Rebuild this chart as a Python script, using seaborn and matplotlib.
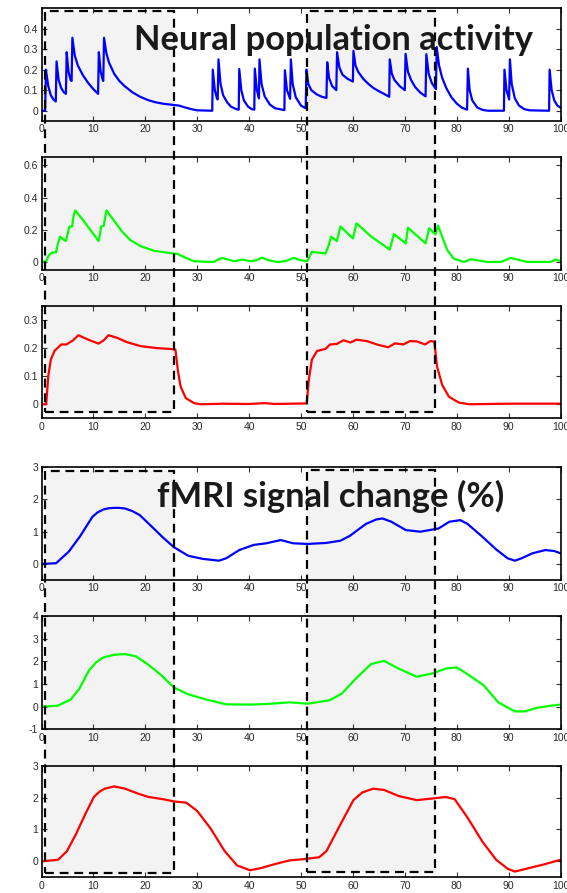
import matplotlib
matplotlib.use("Agg")
import matplotlib.pyplot as plt
import seaborn as sns
import pandas as pd
from matplotlib.patches import Rectangle

# ---------------- data ----------------
neural_blue_t = [0, 0.7, 0.85, 1.3, 1.8, 2.3, 2.75,
                 2.9, 3.3, 3.8, 4.3, 4.7,
                 4.85, 5.2, 5.6, 5.8,
                 5.95, 6.4, 7.0, 8.0, 9.0, 10.0, 10.9,
                 11.05, 11.4, 11.8, 11.9,
                 12.05, 12.5, 13.0, 14.0, 15.0, 16.0, 17.5, 19.0, 20.5, 22.0, 23.5, 25.5, 26.5, 27.5, 29.0, 30.0, 32.9,
                 33.0, 33.4, 33.8, 33.95,
                 34.1, 34.5, 35.0, 35.8, 36.5, 37.5, 38.0,
                 38.1, 38.5, 39.0, 39.8, 40.5, 41.0,
                 41.1, 41.5, 41.9,
                 42.0, 42.4, 43.0, 44.0, 45.0, 46.8,
                 46.9, 47.3, 47.9,
                 48.05, 48.4, 49.0, 50.0, 50.9,
                 51.05, 51.4, 52.0, 53.0, 54.0, 54.9,
                 55.05, 55.4, 56.0, 56.8,
                 56.95, 57.4, 58.0, 59.0, 60.0,
                 60.1, 60.5, 61.0, 62.0, 63.0, 64.0, 65.0, 66.0, 67.0,
                 67.1, 67.5, 68.0, 69.0, 70.0,
                 70.15, 70.6, 71.2, 72.0, 73.0, 74.0,
                 74.15, 74.6, 75.2, 76.0,
                 76.15, 76.6, 77.2, 78.0, 79.0, 80.0, 81.0, 82.0,
                 82.15, 82.5, 83.0, 84.0, 85.0, 86.0, 89.1,
                 89.2, 89.6, 90.1,
                 90.25, 90.6, 91.2, 92.0, 93.0, 94.0, 97.8,
                 97.9, 98.3, 98.8, 99.4, 100]
neural_blue_y = [0, 0, 0.2, 0.12, 0.075, 0.055, 0.045,
                 0.24, 0.15, 0.11, 0.09, 0.082,
                 0.285, 0.19, 0.15, 0.145,
                 0.355, 0.27, 0.22, 0.172, 0.135, 0.105, 0.082,
                 0.285, 0.19, 0.15, 0.145,
                 0.355, 0.28, 0.235, 0.18, 0.145, 0.12, 0.09, 0.068, 0.052, 0.041, 0.034, 0.028, 0.025, 0.017, 0.007, 0.002, 0.0,
                 0.2, 0.1, 0.06, 0.055,
                 0.25, 0.13, 0.075, 0.04, 0.02, 0.008, 0.005,
                 0.203, 0.1, 0.05, 0.02, 0.008, 0.005,
                 0.205, 0.1, 0.06,
                 0.25, 0.13, 0.07, 0.03, 0.012, 0.003,
                 0.197, 0.1, 0.058,
                 0.25, 0.13, 0.065, 0.025, 0.012,
                 0.2, 0.13, 0.1, 0.08, 0.068, 0.062,
                 0.236, 0.16, 0.12, 0.1,
                 0.285, 0.21, 0.175, 0.155, 0.142,
                 0.292, 0.22, 0.19, 0.155, 0.13, 0.11, 0.095, 0.082, 0.068,
                 0.25, 0.18, 0.15, 0.12, 0.1,
                 0.277, 0.19, 0.15, 0.115, 0.088, 0.07,
                 0.275, 0.18, 0.135, 0.105,
                 0.31, 0.22, 0.16, 0.11, 0.065, 0.035, 0.015, 0.005,
                 0.205, 0.1, 0.05, 0.015, 0.004, 0, 0,
                 0.2, 0.1, 0.055,
                 0.25, 0.13, 0.06, 0.025, 0.008, 0.002, 0,
                 0.2, 0.1, 0.05, 0.025, 0.015]

neural_green_t = [0, 0.9, 1.4, 2.0, 2.8, 3.2, 3.6, 4.2, 4.7, 5.0, 5.4, 5.9, 6.2, 6.5, 8.0,
                  9.5, 11.0, 11.3, 11.5, 12.0, 12.5, 13.9, 15.5, 17.1, 19.1, 21.7, 25.5, 26.2, 27.5,
                  29.4, 33.2, 34.0, 34.8, 36.0, 37.1, 38.7, 40.3, 41.5, 42.5, 43.8, 45.4, 47.0, 48.6,
                  49.8, 50.8, 51.2, 52.1, 54.7, 55.3, 55.8, 56.9, 57.6, 60.0, 60.7, 63.5, 67.1, 67.9,
                  70.2, 70.6, 74.0, 74.7, 75.9, 76.4, 77.2, 78.2, 79.4, 81.4, 82.7, 85.9, 88.5, 90.4,
                  93.6, 98.1, 99.1, 100]
neural_green_y = [0, 0.004, 0.04, 0.058, 0.06, 0.12, 0.157, 0.14, 0.13, 0.17, 0.22, 0.22, 0.29, 0.32, 0.26,
                  0.195, 0.13, 0.18, 0.22, 0.225, 0.32, 0.26, 0.19, 0.136, 0.098, 0.069, 0.052, 0.05, 0.03,
                  0.004, 0, 0.015, 0.025, 0.015, 0.004, 0.015, 0.004, 0.012, 0.027, 0.01, 0.0, 0.005, 0.025,
                  0.012, 0.006, 0.006, 0.063, 0.052, 0.1, 0.157, 0.13, 0.22, 0.146, 0.24, 0.158, 0.077, 0.173,
                  0.115, 0.213, 0.115, 0.209, 0.171, 0.226, 0.157, 0.073, 0.021, 0, 0.017, 0, 0, 0.025,
                  0, 0, 0.015, 0.006]

neural_red_t = [0, 0.9, 1.3, 1.8, 2.5, 3.8, 4.8, 6.1, 7.1, 9.0, 11.0, 12.0, 12.9, 14.5, 16.5,
                19.1, 22.3, 25.5, 25.8, 26.3, 26.8, 27.8, 29.4, 30.7, 35.0, 40.0, 43.0, 45.0, 50.8,
                51.1, 51.5, 52.1, 53.1, 54.7, 55.6, 56.9, 58.2, 59.5, 60.7, 62.7, 64.6, 66.8, 68.1,
                69.7, 71.0, 72.3, 73.9, 74.9, 75.7, 76.2, 77.2, 78.5, 80.4, 82.4, 90.0, 100]
neural_red_y = [0, 0, 0.1, 0.159, 0.19, 0.213, 0.213, 0.228, 0.246, 0.23, 0.216, 0.228, 0.246, 0.237, 0.221,
                0.207, 0.2, 0.196, 0.195, 0.117, 0.063, 0.022, 0.004, 0, 0.002, 0.001, 0.004, 0.001, 0.003,
                0.003, 0.087, 0.159, 0.19, 0.197, 0.213, 0.215, 0.228, 0.22, 0.23, 0.225, 0.213, 0.203, 0.217,
                0.213, 0.225, 0.224, 0.213, 0.225, 0.223, 0.135, 0.069, 0.027, 0.006, 0, 0.002, 0.002]

fmri_blue_t = [0, 2.8, 5.25, 7.4, 9.8, 10.8, 11.9, 13.0, 14.0, 15.0, 16.1, 17.5, 18.9, 21.3, 23.4, 25.5,
               28.3, 31.1, 34.2, 35.6, 38.1, 40.9, 43.3, 46.1, 48.5, 51.3, 54.8, 57.6, 59.4, 62.5,
               64.5, 65.7, 67.4, 70.2, 73.0, 76.5, 78.6, 80.7, 82.1, 84.9, 87.6, 89.8, 91.2, 92.5,
               94.6, 97.1, 98.8, 100]
fmri_blue_y = [0, 0.02, 0.38, 0.85, 1.46, 1.6, 1.69, 1.73, 1.74, 1.74, 1.72, 1.64, 1.52, 1.15, 0.82, 0.52,
               0.25, 0.155, 0.1, 0.175, 0.43, 0.59, 0.64, 0.74, 0.64, 0.62, 0.65, 0.72, 0.87, 1.24,
               1.38, 1.41, 1.31, 1.05, 1.0, 1.1, 1.31, 1.36, 1.24, 0.85, 0.45, 0.175, 0.1, 0.175,
               0.33, 0.43, 0.4, 0.33]

fmri_green_t = [0, 3.1, 5.6, 7.3, 9.1, 10.5, 11.9, 14.0, 16.1, 18.2, 20.6, 23.1, 25.5, 28.3, 31.8, 35.6,
                40.2, 43.7, 47.8, 51.3, 55.5, 57.9, 60.4, 63.5, 66.0, 68.8, 72.3, 75.4, 77.9, 80.0,
                82.1, 85.2, 88.0, 91.2, 93.2, 95.3, 98.1, 100]
fmri_green_y = [0, 0.04, 0.31, 0.79, 1.58, 1.95, 2.17, 2.29, 2.32, 2.22, 1.85, 1.38, 0.85, 0.54, 0.31, 0.10,
                0.09, 0.12, 0.19, 0.13, 0.28, 0.58, 1.2, 1.88, 2.02, 1.68, 1.32, 1.47, 1.68, 1.73,
                1.43, 0.94, 0.19, -0.21, -0.21, -0.06, 0.04, 0.09]

fmri_red_t = [0, 3.2, 4.9, 6.6, 8.4, 10.1, 11.2, 12.2, 14.0, 16.1, 18.5, 20.6, 23.4, 25.5, 27.9, 30.0,
              32.5, 35.3, 37.7, 40.2, 42.3, 45.1, 47.8, 50.6, 53.5, 54.9, 57.6, 60.1, 61.8, 63.9,
              66.0, 68.8, 72.3, 75.8, 77.9, 79.6, 82.1, 84.9, 87.6, 89.8, 91.2, 93.2, 96.7, 100]
fmri_red_y = [0, 0.05, 0.32, 0.84, 1.47, 2.02, 2.19, 2.28, 2.35, 2.28, 2.13, 2.02, 1.95, 1.88, 1.84, 1.58,
              1.05, 0.32, -0.13, -0.28, -0.21, -0.08, 0.03, 0.07, 0.13, 0.32, 1.16, 1.92, 2.16, 2.28,
              2.24, 2.05, 1.92, 1.98, 2.02, 1.95, 1.37, 0.63, 0.05, -0.23, -0.32, -0.24, -0.1, 0.05]

# stimulation blocks (x range) and the box extents in each group
block_starts = [0.6, 51.1]
block_ends = [25.5, 75.9]
top_group_box_top = [0.487, 0.487]        # in panel-1 units
top_group_box_bottom = [-0.028, -0.027]   # in panel-3 units
bottom_group_box_top = [2.87, 2.91]       # in panel-4 units
bottom_group_box_bottom = [-0.37, -0.34]  # in panel-6 units

x_ticks = list(range(0, 101, 10))
titles = ["Neural population activity", "fMRI signal change (%)"]

panels = [
    (neural_blue_t, neural_blue_y, "#0000ff", (-0.05, 0.5), [0, 0.1, 0.2, 0.3, 0.4], ["0", "0.1", "0.2", "0.3", "0.4"]),
    (neural_green_t, neural_green_y, "#00ff00", (-0.05, 0.65), [0, 0.2, 0.4, 0.6], ["0", "0.2", "0.4", "0.6"]),
    (neural_red_t, neural_red_y, "#ff0000", (-0.05, 0.35), [0, 0.1, 0.2, 0.3], ["0", "0.1", "0.2", "0.3"]),
    (fmri_blue_t, fmri_blue_y, "#0000ff", (-0.5, 3.0), [0, 1, 2, 3], ["0", "1", "2", "3"]),
    (fmri_green_t, fmri_green_y, "#00ff00", (-1, 4), [-1, 0, 1, 2, 3, 4], ["-1", "0", "1", "2", "3", "4"]),
    (fmri_red_t, fmri_red_y, "#ff0000", (-0.5, 3.0), [0, 1, 2, 3], ["0", "1", "2", "3"]),
]

# ---------------- style ----------------
sns.set_style("ticks")
plt.rcParams['font.family'] = ['Liberation Sans', 'DejaVu Sans']

W, H = 567, 893
fig = plt.figure(figsize=(W / 100, H / 100), dpi=100)
fig.patch.set_facecolor("white")

LEFT, RIGHT = 41.5, 560.5
panel_px = [(8, 121), (157.3, 270), (306, 418.3), (467.3, 580), (616, 729.3), (765.7, 877.3)]

axes = []
for (top, bottom), (t, y, col, ylim, yt, ytl) in zip(panel_px, panels):
    ax = fig.add_axes([LEFT / W, 1 - bottom / H, (RIGHT - LEFT) / W, (bottom - top) / H])
    ax.set_facecolor("none")
    df = pd.DataFrame({"t": t, "y": y})
    sns.lineplot(data=df, x="t", y="y", ax=ax, color=col, lw=1.6, estimator=None, sort=False)
    ax.set_xlim(0, 100)
    ax.set_ylim(*ylim)
    ax.set_xticks(x_ticks)
    ax.set_xticklabels([str(v) for v in x_ticks])
    ax.set_yticks(yt)
    ax.set_yticklabels(ytl)
    ax.set_xlabel("")
    ax.set_ylabel("")
    ax.tick_params(direction="in", length=3.5, width=0.8, top=True, right=True,
                   labelsize=7.5, labelcolor="#2a2a2a", color="#333333", pad=2.5)
    for s in ax.spines.values():
        s.set_visible(True)
        s.set_linewidth(1.2)
        s.set_color("black")
    axes.append(ax)


def to_fig(ax, x, y):
    disp = ax.transData.transform((x, y))
    return fig.transFigure.inverted().transform(disp)


groups = [
    (axes[0], axes[2], top_group_box_top, top_group_box_bottom),
    (axes[3], axes[5], bottom_group_box_top, bottom_group_box_bottom),
]
for ax_top, ax_bot, tops, bots in groups:
    for s, e, yt, yb in zip(block_starts, block_ends, tops, bots):
        x0, y0 = to_fig(ax_bot, s, yb)
        x1, y1 = to_fig(ax_top, e, yt)
        fig.add_artist(Rectangle((x0, y0), x1 - x0, y1 - y0, transform=fig.transFigure,
                                 facecolor="#f3f3f3", edgecolor="none", zorder=-1))
        fig.add_artist(Rectangle((x0, y0), x1 - x0, y1 - y0, transform=fig.transFigure,
                                 facecolor="none", edgecolor="black", lw=1.6,
                                 linestyle=(0, (4, 2.6)), zorder=3))

# the lower part of panel-3 tick labels is hidden in the reference
fig.add_artist(Rectangle((0, 1 - 462 / H), 1, 32 / H, transform=fig.transFigure,
                         facecolor="white", edgecolor="none", zorder=4))

fig.text(334 / W, 1 - 50 / H, titles[0], ha="center", va="baseline", fontsize=24.8,
         fontweight="bold", family=["Lato", "DejaVu Sans"], color="#1a1a1a", zorder=10)
fig.text(331 / W, 1 - 506.7 / H, titles[1], ha="center", va="baseline", fontsize=24.8,
         fontweight="bold", family=["Lato", "DejaVu Sans"], color="#1a1a1a", zorder=10)

fig.savefig("out.png", dpi=100)
